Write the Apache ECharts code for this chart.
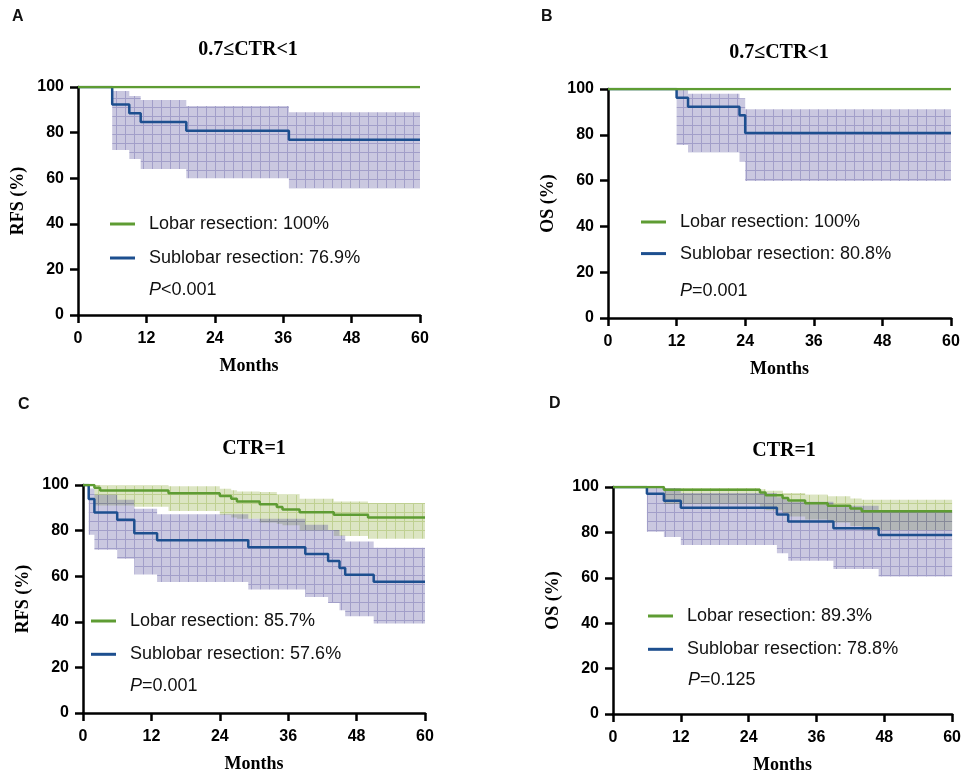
<!DOCTYPE html>
<html>
<head>
<meta charset="utf-8">
<script src="https://cdn.jsdelivr.net/npm/echarts@6/dist/echarts.min.js"></script>
<style>
  html, body { margin: 0; padding: 0; background: #fff; }
  #chart { width: 964px; height: 775px; }
</style>
</head>
<body>
<div id="chart"></div>
<script>
// Kaplan-Meier steps: [month, survival %]
const aLobar = [[0, 100], [60, 100]];
const aSub = [[0, 100], [6, 92.3], [9, 88.5], [11, 84.6], [19, 80.8], [37, 76.9], [60, 76.9]];
// confidence bands: [month, lower %, upper %], last row closes the band
const aSubCI = [[6, 72.4, 98.2], [9, 68.4, 96.1], [11, 64.0, 94.3], [19, 60.0, 91.7], [37, 55.6, 88.9], [60, 55.6, 88.9]];

const bLobar = [[0, 100], [60, 100]];
const bSub = [[0, 100], [12, 96.2], [14, 92.3], [23, 88.5], [24, 80.8], [60, 80.8]];
const bSubCI = [[12, 75.6, 99.6], [14, 72.4, 97.9], [23, 68.3, 96.0], [24, 59.8, 91.2], [60, 59.8, 91.2]];

const cLobar = [[0, 100], [2, 98.8], [3, 97.6], [15, 96.4], [24, 95.2], [26, 94.0], [27, 92.8], [31, 91.6],
  [34, 90.4], [35, 89.3], [38, 88.1], [44, 86.9], [50, 85.7], [60, 85.7]];
const cLobarCI = [[2, 91.0, 100], [3, 91.0, 99.8], [9, 90.5, 99.8], [15, 88.6, 99.4], [24, 86.8, 98.4],
  [26, 85.8, 97.7], [27, 85.2, 97.2], [31, 83.5, 96.9], [34, 83.0, 95.8], [35, 82.4, 95.8], [38, 80.0, 94.0],
  [44, 77.6, 92.8], [50, 76.4, 92.1], [60, 76.4, 92.1]];
const cSub = [[0, 100], [1, 93.9], [2, 87.9], [6, 84.8], [9, 78.8], [13, 75.8], [29, 72.7], [39, 69.7],
  [43, 66.7], [45, 63.6], [46, 60.6], [51, 57.6], [60, 57.6]];
const cSubCI = [[1, 78.2, 98.5], [2, 71.6, 95.7], [6, 67.6, 93.5], [9, 60.7, 89.6], [13, 57.5, 87.2],
  [29, 54.2, 85.2], [39, 50.9, 82.6], [43, 48.2, 80.3], [45, 45.1, 77.8], [46, 42.4, 75.2], [51, 39.3, 72.5],
  [60, 39.3, 72.5]];

const dLobar = [[0, 100], [9, 98.8], [26, 97.6], [27, 96.4], [30, 95.2], [31, 94.0], [34, 92.8], [38, 91.7],
  [42, 90.5], [44, 89.3], [60, 89.3]];
const dLobarCI = [[9, 92.5, 99.6], [26, 91.0, 99.0], [27, 89.8, 98.4], [30, 88.4, 97.4], [31, 87.0, 97.4],
  [34, 85.7, 96.6], [38, 84.4, 95.9], [42, 82.8, 94.9], [44, 81.0, 94.4], [60, 81.0, 94.4]];
const dSub = [[0, 100], [6, 97.0], [9, 93.9], [12, 90.9], [29, 87.9], [31, 84.8], [39, 81.8], [47, 78.8], [60, 78.8]];
const dSubCI = [[6, 80.3, 100], [9, 78.0, 99.6], [12, 74.5, 97.4], [29, 70.8, 95.5], [31, 67.5, 93.5],
  [39, 63.9, 91.7], [47, 60.6, 89.0], [60, 60.6, 89.0]];

const panelLetters = ['A', 'B', 'C', 'D'];
const panelTitles = ['0.7≤CTR<1', '0.7≤CTR<1', 'CTR=1', 'CTR=1'];
const yNames = ['RFS (%)', 'OS (%)', 'RFS (%)', 'OS (%)'];
const lobarNames = ['Lobar resection: 100%', 'Lobar resection: 100%', 'Lobar resection: 85.7%', 'Lobar resection: 89.3%'];
const subNames = ['Sublobar resection: 76.9%', 'Sublobar resection: 80.8%', 'Sublobar resection: 57.6%', 'Sublobar resection: 78.8%'];
const pValues = ['<0.001', '=0.001', '=0.001', '=0.125'];

const SANS = "'Liberation Sans', Arial, sans-serif";
const SERIF = "'Liberation Serif', 'Times New Roman', serif";
const GREEN = '#5e9c33';
const BLUE = '#1d4f8f';

// faint grid texture like the Prism band fill
function hatch(fill, line) {
  const c = document.createElement('canvas');
  c.width = 9; c.height = 9;
  const ctx = c.getContext('2d');
  ctx.fillStyle = fill;
  ctx.fillRect(0, 0, 9, 9);
  ctx.fillStyle = line;
  ctx.fillRect(8, 0, 1, 9);
  ctx.fillRect(0, 8, 8, 1);
  return { image: c, repeat: 'repeat' };
}
const GREEN_BAND = hatch('rgba(130,160,40,0.28)', 'rgba(130,160,40,0.31)');
const BLUE_BAND = hatch('rgba(90,85,160,0.32)', 'rgba(90,85,160,0.355)');

const grids = [
  { left: 78, top: 87, width: 342, height: 228 },
  { left: 608, top: 89, width: 343, height: 229 },
  { left: 83, top: 485, width: 342, height: 228 },
  { left: 613, top: 487, width: 342, height: 228 },
];
const letterPos = [[12, 17], [541, 17], [18, 405], [549, 404]];
const titlePos = [[248, 50], [779, 53], [254, 449], [784, 451]];
const legendPos = [[110, 214, 14], [641, 212, 11.6], [91, 611, 13.3], [648, 606, 13.3]];
const pPos = [[149, 290], [680, 291], [130, 686], [688, 680]];

const lobarData = [aLobar, bLobar, cLobar, dLobar];
const subData = [aSub, bSub, cSub, dSub];
const lobarCI = [null, null, cLobarCI, dLobarCI];
const subCI = [aSubCI, bSubCI, cSubCI, dSubCI];

const axisLine = { show: true, onZero: false, lineStyle: { color: '#000', width: 2.5 } };
const axisTick = { show: true, length: 8, lineStyle: { color: '#000', width: 2.5 } };
const tickFont = { color: '#000', fontSize: 16, fontWeight: 'bold', fontFamily: SANS };
const nameFont = { color: '#000', fontSize: 18, fontWeight: 'bold', fontFamily: SERIF };

function bandSeries(idx, steps, fill) {
  return {
    type: 'custom', xAxisIndex: idx, yAxisIndex: idx, silent: true, z: 1,
    data: [[steps[0][0], steps[0][1]]],
    renderItem: (params, api) => {
      const pts = [];
      for (let i = 0; i < steps.length - 1; i++) {
        pts.push(api.coord([steps[i][0], steps[i][2]]));
        pts.push(api.coord([steps[i + 1][0], steps[i][2]]));
      }
      for (let i = steps.length - 2; i >= 0; i--) {
        pts.push(api.coord([steps[i + 1][0], steps[i][1]]));
        pts.push(api.coord([steps[i][0], steps[i][1]]));
      }
      return { type: 'polygon', shape: { points: pts }, style: { fill } };
    },
  };
}

function kmSeries(idx, name, data, color, z) {
  return {
    type: 'line', name, xAxisIndex: idx, yAxisIndex: idx, data, step: 'end',
    symbol: 'none', color, lineStyle: { color, width: 2.5 }, z, silent: true, animation: false,
  };
}

const series = [];
const legends = [];
const graphics = [];
grids.forEach((g, i) => {
  if (lobarCI[i]) series.push(bandSeries(i, lobarCI[i], GREEN_BAND));
  series.push(bandSeries(i, subCI[i], BLUE_BAND));
  series.push(kmSeries(i, subNames[i], subData[i], BLUE, 3));
  series.push(kmSeries(i, lobarNames[i], lobarData[i], GREEN, 4));
  legends.push({
    orient: 'vertical', left: legendPos[i][0], top: legendPos[i][1], itemGap: legendPos[i][2],
    padding: 0, itemWidth: 25, itemHeight: 3, icon: 'rect', selectedMode: false,
    data: [lobarNames[i], subNames[i]],
    textStyle: { fontSize: 18, fontFamily: SANS, color: '#111', lineHeight: 20, padding: [0, 0, 0, 9] },
  });
  graphics.push({
    type: 'text', x: letterPos[i][0], y: letterPos[i][1],
    style: { text: panelLetters[i], fontSize: 16, fontWeight: 'bold', fontFamily: SANS, fill: '#111', verticalAlign: 'middle' },
  });
  graphics.push({
    type: 'text', x: titlePos[i][0], y: titlePos[i][1],
    style: { text: panelTitles[i], fontSize: 20, fontWeight: 'bold', fontFamily: SERIF, fill: '#000', align: 'center', verticalAlign: 'middle' },
  });
  graphics.push({
    type: 'text', x: pPos[i][0], y: pPos[i][1],
    style: {
      text: '{i|P}{n|' + pValues[i] + '}', verticalAlign: 'middle',
      rich: {
        i: { fontSize: 18, fontFamily: SANS, fontStyle: 'italic', fill: '#111' },
        n: { fontSize: 18, fontFamily: SANS, fill: '#111' },
      },
    },
  });
});

const chart = echarts.init(document.getElementById('chart'), null, { renderer: 'canvas' });
chart.setOption({
  animation: false,
  backgroundColor: '#fff',
  grid: grids,
  xAxis: grids.map((g, i) => ({
    gridIndex: i, type: 'value', min: 0, max: 60, interval: 12,
    axisLine, axisTick, axisLabel: { ...tickFont, margin: 16 }, splitLine: { show: false },
    name: 'Months', nameLocation: 'middle', nameGap: 42, nameTextStyle: nameFont,
  })),
  yAxis: grids.map((g, i) => ({
    gridIndex: i, type: 'value', min: 0, max: 100, interval: 20,
    axisLine, axisTick, axisLabel: { ...tickFont, margin: 14 }, splitLine: { show: false },
    name: yNames[i], nameLocation: 'middle', nameGap: 51, nameTextStyle: nameFont,
  })),
  legend: legends,
  graphic: graphics,
  series,
});
</script>
</body>
</html>
